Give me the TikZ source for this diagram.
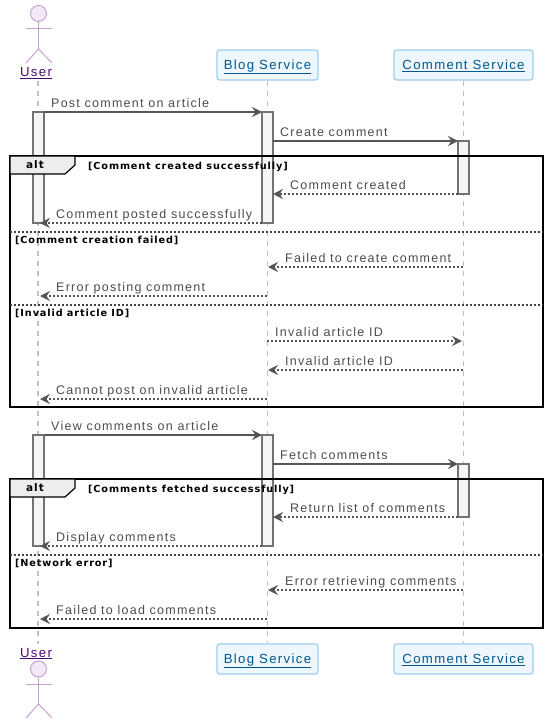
\documentclass[tikz,border=0pt]{standalone}
\usepackage{fontspec}
\setmainfont[LetterSpace=10]{Liberation Sans}
\newfontfamily\guardfont[LetterSpace=9]{DejaVu Sans}
\usepackage{xcolor}
\usetikzlibrary{arrows.meta,positioning,calc}
\definecolor{actorline}{HTML}{C9A0D4}
\definecolor{actorfill}{HTML}{F3E9F6}
\definecolor{actortext}{HTML}{4B0A6E}
\definecolor{boxline}{HTML}{9CCFEB}
\definecolor{boxfill}{HTML}{EDF7FD}
\definecolor{boxtext}{HTML}{00588F}
\definecolor{msgline}{HTML}{555555}
\newcommand{\ulabel}[1]{\underline{#1}}

\begin{document}
\begin{tikzpicture}[
    x=1pt, y=-1pt,
    >={Stealth[length=10pt,width=10pt,inset=3.5pt]},
    service/.style={draw=boxline, line width=1.1pt, rounded corners=2.5pt,
        fill=boxfill, text=boxtext, inner sep=0pt, minimum height=30pt,
        text height=10.5pt, text depth=1.5pt,
        font=\fontsize{13.2}{15}\selectfont},
    actorname/.style={text=actortext, inner sep=0pt,
        text height=10.5pt, text depth=1.5pt,
        font=\fontsize{13.2}{15}\selectfont},
    actorhead/.style={circle, draw=actorline, fill=actorfill, line width=1pt,
        inner sep=0pt, minimum size=16pt},
    limb/.style={draw=actorline, line width=1pt},
    lifeline/.style={draw=gray!50, line width=1.2pt, dash pattern=on 5pt off 5pt},
    activebar/.style={draw=black!55, fill=gray!8, line width=1.2pt,
        inner sep=0pt, outer sep=0pt, minimum width=11pt},
    msg/.style={->, draw=msgline, line width=2pt},
    reply/.style={->, draw=msgline, line width=2pt, dash pattern=on 2pt off 2pt},
    msglabel/.style={anchor=base west, inner sep=0pt, text=black!70,
        font=\fontsize{12.5}{14}\selectfont},
    frameline/.style={draw=black, line width=1.8pt},
    elseline/.style={draw=black!75, line width=1.2pt, dash pattern=on 2pt off 2pt},
    altlabel/.style={draw=black, fill=gray!14, line width=1.2pt},
    guard/.style={anchor=base west, inner sep=0pt, text=black,
        font=\guardfont\bfseries\fontsize{9.7}{11}\selectfont},
]
\useasboundingbox (0,0) rectangle (550,725);

% actors and services
\node[actorhead] (headtop) at (38.5,13.5) {};
\coordinate (hiptop) at (38.5,49);
\coordinate (armltop) at (26,29);
\coordinate (armrtop) at (52,29);
\coordinate (legltop) at (26,63);
\coordinate (legrtop) at (52,63);
\draw[limb] (headtop) -- (hiptop);
\draw[limb] (armltop) -- (armrtop);
\draw[limb] (legltop) -- (hiptop) -- (legrtop);
\node[actorname] (usertop) at (36,72.5) {\ulabel{User}};
\node[service, minimum width=101pt] (blogtop) at (267.5,65) {\ulabel{Blog Service}};
\node[service, minimum width=139pt] (commenttop) at (463.5,65) {\ulabel{Comment Service}};

\node[actorname] (userbot) at (36,652.5) {\ulabel{User}};
\node[actorhead] (headbot) at (38.5,669) {};
\coordinate (hipbot) at (38.5,704);
\coordinate (armlbot) at (26,684);
\coordinate (armrbot) at (52,684);
\coordinate (leglbot) at (26,718);
\coordinate (legrbot) at (52,718);
\draw[limb] (headbot) -- (hipbot);
\draw[limb] (armlbot) -- (armrbot);
\draw[limb] (leglbot) -- (hipbot) -- (legrbot);
\node[service, minimum width=101pt] (blogbot) at (267.5,659) {\ulabel{Blog Service}};
\node[service, minimum width=139pt] (commentbot) at (463.5,659) {\ulabel{Comment Service}};

% lifelines
\coordinate (userline) at (38,81);
\coordinate (userend) at (38,644);
\draw[lifeline] (userline) -- (userend);
\draw[lifeline] (blogtop) -- (blogbot);
\draw[lifeline] (commenttop) -- (commentbot);

% activation bars
\node[activebar, minimum height=111pt] (userbarA) at (38.5,167.5) {};
\node[activebar, minimum height=111pt] (blogbarA) at (267.5,167.5) {};
\node[activebar, minimum height=53pt] (commentbarA) at (463.5,167.5) {};
\node[activebar, minimum height=111pt] (userbarB) at (38.5,490.5) {};
\node[activebar, minimum height=111pt] (blogbarB) at (267.5,490.5) {};
\node[activebar, minimum height=53pt] (commentbarB) at (463.5,490.5) {};

% first alt frame
\coordinate (frameAtl) at (10,156);
\coordinate (frameAbr) at (543,407);
\draw[frameline] (frameAtl) rectangle (frameAbr);
\draw[altlabel] (10,156) -- (75,156) -- (75,165) -- (65,174) -- (10,174) -- cycle;
\node[guard, font=\guardfont\bfseries\fontsize{10.5}{12}\selectfont, anchor=center] (altA) at (35,165) {alt};
\node[guard] (guardA) at (88,169) {[Comment created successfully]};
\coordinate (elseAl) at (10,232);
\coordinate (elseAr) at (543,232);
\draw[elseline] (elseAl) -- (elseAr);
\node[guard] (guardB) at (15,243) {[Comment creation failed]};
\coordinate (elseBl) at (10,305);
\coordinate (elseBr) at (543,305);
\draw[elseline] (elseBl) -- (elseBr);
\node[guard] (guardC) at (15,316) {[Invalid article ID]};

% second alt frame
\coordinate (frameBtl) at (10,479);
\coordinate (frameBbr) at (543,628);
\draw[frameline] (frameBtl) rectangle (frameBbr);
\draw[altlabel] (10,479) -- (75,479) -- (75,488) -- (65,497) -- (10,497) -- cycle;
\node[guard, font=\guardfont\bfseries\fontsize{10.5}{12}\selectfont, anchor=center] (altB) at (35,488) {alt};
\node[guard] (guardD) at (88,492) {[Comments fetched successfully]};
\coordinate (elseCl) at (10,555);
\coordinate (elseCr) at (543,555);
\draw[elseline] (elseCl) -- (elseCr);
\node[guard] (guardE) at (15,566) {[Network error]};

% messages of the first frame
\draw[msg] (userbarA.north east) -- (blogbarA.north west);
\node[msglabel] (postlabel) at (51,107) {Post comment on article};
\draw[msg] (blogbarA.east |- commentbarA.north) -- (commentbarA.north west);
\node[msglabel] (createlabel) at (280,136) {Create comment};
\draw[reply] (commentbarA.south west) -- (blogbarA.east |- commentbarA.south);
\node[msglabel] (createdlabel) at (290,189) {Comment created};
\coordinate (postedend) at (40,223);
\draw[reply] (blogbarA.south west) -- (postedend);
\node[msglabel] (postedlabel) at (56,218) {Comment posted successfully};

\coordinate (failC) at (463,267);
\coordinate (failB) at (268,267);
\draw[reply] (failC) -- (failB);
\node[msglabel] (faillabel) at (285,262) {Failed to create comment};
\coordinate (errorB) at (267,296);
\coordinate (errorU) at (40,296);
\draw[reply] (errorB) -- (errorU);
\node[msglabel] (errorlabel) at (56,291) {Error posting comment};

\coordinate (invalidB) at (267,341);
\coordinate (invalidC) at (462,341);
\draw[reply] (invalidB) -- (invalidC);
\node[msglabel] (invalidlabel) at (275,336) {Invalid article ID};
\coordinate (backC) at (463,370);
\coordinate (backB) at (268,370);
\draw[reply] (backC) -- (backB);
\node[msglabel] (backlabel) at (285,365) {Invalid article ID};
\coordinate (cannotB) at (267,399);
\coordinate (cannotU) at (40,399);
\draw[reply] (cannotB) -- (cannotU);
\node[msglabel] (cannotlabel) at (56,394) {Cannot post on invalid article};

% messages of the second frame
\draw[msg] (userbarB.north east) -- (blogbarB.north west);
\node[msglabel] (viewlabel) at (51,430) {View comments on article};
\draw[msg] (blogbarB.east |- commentbarB.north) -- (commentbarB.north west);
\node[msglabel] (fetchlabel) at (280,459) {Fetch comments};
\draw[reply] (commentbarB.south west) -- (blogbarB.east |- commentbarB.south);
\node[msglabel] (returnlabel) at (290,512) {Return list of comments};
\coordinate (displayend) at (40,546);
\draw[reply] (blogbarB.south west) -- (displayend);
\node[msglabel] (displaylabel) at (56,541) {Display comments};

\coordinate (retrieveC) at (463,590);
\coordinate (retrieveB) at (268,590);
\draw[reply] (retrieveC) -- (retrieveB);
\node[msglabel] (retrievelabel) at (285,585) {Error retrieving comments};
\coordinate (loadB) at (267,619);
\coordinate (loadU) at (40,619);
\draw[reply] (loadB) -- (loadU);
\node[msglabel] (loadlabel) at (56,614) {Failed to load comments};
\end{tikzpicture}
\end{document}
